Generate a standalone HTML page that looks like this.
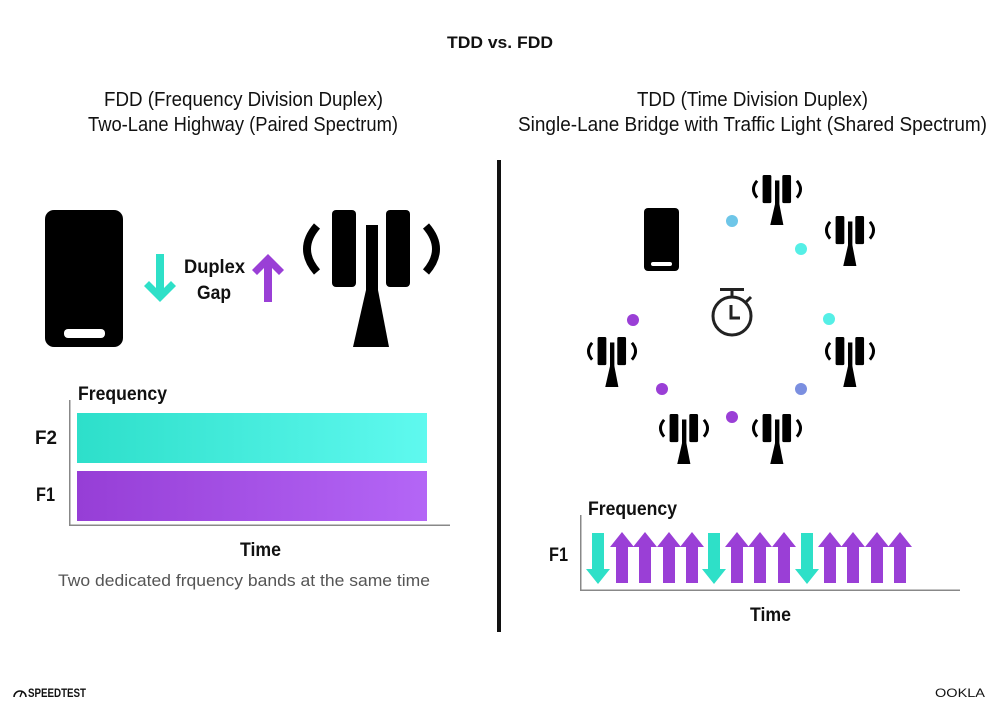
<!DOCTYPE html>
<html><head><meta charset="utf-8"><style>
html,body{margin:0;padding:0;background:#fff;}
svg{display:block;}
text{font-family:"Liberation Sans",sans-serif;fill:#111;}
</style></head><body>
<svg width="1000" height="707" viewBox="0 0 1000 707" xmlns="http://www.w3.org/2000/svg">
<defs>
<linearGradient id="gt" x1="0" x2="1" y1="0" y2="0"><stop offset="0" stop-color="#2ddfca"/><stop offset="1" stop-color="#5ff9ef"/></linearGradient>
<linearGradient id="gp" x1="0" x2="1" y1="0" y2="0"><stop offset="0" stop-color="#963ed6"/><stop offset="1" stop-color="#b466f6"/></linearGradient>
<g id="tower">
<rect x="29" y="0" width="24" height="77" rx="4" fill="#000"/>
<rect x="83" y="0" width="24" height="77" rx="4" fill="#000"/>
<rect x="63" y="15" width="12" height="80" fill="#000"/>
<polygon points="50,137 86,137 75,80 63,80" fill="#000"/>
<path d="M14,16 Q-6,39 14,62" stroke="#000" stroke-width="8" fill="none"/>
<path d="M123,16 Q143,39 123,62" stroke="#000" stroke-width="8" fill="none"/>
</g>
<g id="up"><polygon points="0,-26 12,-11 6,-11 6,25 -6,25 -6,-11 -12,-11" fill="#9a3fd6"/></g>
<g id="dn"><polygon points="0,26 12,11 6,11 6,-25 -6,-25 -6,11 -12,11" fill="#2ee0c8"/></g>
</defs>

<text x="447" y="48" font-size="17" font-weight="bold" textLength="106" lengthAdjust="spacingAndGlyphs">TDD vs. FDD</text>
<text x="104" y="106" font-size="20" textLength="279" lengthAdjust="spacingAndGlyphs">FDD (Frequency Division Duplex)</text>
<text x="88" y="131" font-size="20" textLength="310" lengthAdjust="spacingAndGlyphs">Two-Lane Highway (Paired Spectrum)</text>
<text x="637" y="106" font-size="20" textLength="231" lengthAdjust="spacingAndGlyphs">TDD (Time Division Duplex)</text>
<text x="518" y="131" font-size="20" textLength="469" lengthAdjust="spacingAndGlyphs">Single-Lane Bridge with Traffic Light (Shared Spectrum)</text>

<rect x="497" y="160" width="4" height="472" fill="#111"/>

<rect x="45" y="210" width="78" height="137" rx="9" fill="#000"/>
<rect x="64" y="329" width="41" height="9" rx="4" fill="#fff"/>
<g transform="translate(160,278)"><polygon points="0,24 16,8 11,3 4,10 4,-24 -4,-24 -4,10 -11,3 -16,8" fill="#2ee0c8"/></g>
<g transform="translate(268,278)"><polygon points="0,-24 16,-8 11,-3 4,-10 4,24 -4,24 -4,-10 -11,-3 -16,-8" fill="#9a3fd6"/></g>
<text x="184" y="273" font-size="19" font-weight="bold" textLength="61" lengthAdjust="spacingAndGlyphs">Duplex</text>
<text x="197" y="299" font-size="19" font-weight="bold" textLength="34" lengthAdjust="spacingAndGlyphs">Gap</text>
<use href="#tower" transform="translate(303,210)"/>

<rect x="69" y="400" width="1.5" height="126" fill="#888"/>
<rect x="69" y="524.5" width="381" height="1.5" fill="#888"/>
<rect x="77" y="413" width="350" height="50" fill="url(#gt)"/>
<rect x="77" y="471" width="350" height="50" fill="url(#gp)"/>
<text x="78" y="400" font-size="19" font-weight="bold" textLength="89" lengthAdjust="spacingAndGlyphs">Frequency</text>
<text x="35" y="444" font-size="19" font-weight="bold" textLength="22" lengthAdjust="spacingAndGlyphs">F2</text>
<text x="36" y="501" font-size="19" font-weight="bold" textLength="19" lengthAdjust="spacingAndGlyphs">F1</text>
<text x="240" y="556" font-size="19" font-weight="bold" textLength="41" lengthAdjust="spacingAndGlyphs">Time</text>
<text x="58" y="586" font-size="17" style="fill:#555" textLength="372" lengthAdjust="spacingAndGlyphs">Two dedicated frquency bands at the same time</text>

<rect x="644" y="208" width="35" height="63" rx="4" fill="#000"/>
<rect x="651" y="262" width="21" height="4" rx="2" fill="#fff"/>
<use href="#tower" transform="translate(752,175) scale(0.365)"/>
<use href="#tower" transform="translate(825,216) scale(0.365)"/>
<use href="#tower" transform="translate(825,337) scale(0.365)"/>
<use href="#tower" transform="translate(587,337) scale(0.365)"/>
<use href="#tower" transform="translate(659,414) scale(0.365)"/>
<use href="#tower" transform="translate(752,414) scale(0.365)"/>
<circle cx="732" cy="221" r="6" fill="#6ec6e8"/>
<circle cx="801" cy="249" r="6" fill="#55efe6"/>
<circle cx="829" cy="319" r="6" fill="#55efe6"/>
<circle cx="801" cy="389" r="6" fill="#7b8fe0"/>
<circle cx="732" cy="417" r="6" fill="#9a3fd6"/>
<circle cx="662" cy="389" r="6" fill="#9a3fd6"/>
<circle cx="633" cy="320" r="6" fill="#9a3fd6"/>
<circle cx="732" cy="316" r="19" fill="none" stroke="#222" stroke-width="3"/>
<rect x="720" y="288" width="24" height="3" fill="#222"/>
<rect x="730.5" y="290" width="3" height="8" fill="#222"/>
<line x1="746" y1="302" x2="751" y2="297" stroke="#222" stroke-width="3"/>
<polyline points="731,305 731,318 740,318" fill="none" stroke="#222" stroke-width="3"/>

<rect x="580" y="515" width="1.5" height="76" fill="#888"/>
<rect x="580" y="589.5" width="380" height="1.5" fill="#888"/>
<text x="588" y="515" font-size="19" font-weight="bold" textLength="89" lengthAdjust="spacingAndGlyphs">Frequency</text>
<text x="549" y="561" font-size="19" font-weight="bold" textLength="19" lengthAdjust="spacingAndGlyphs">F1</text>
<text x="750" y="621" font-size="19" font-weight="bold" textLength="41" lengthAdjust="spacingAndGlyphs">Time</text>
<use href="#dn" transform="translate(598,558)"/>
<use href="#up" transform="translate(622,558)"/>
<use href="#up" transform="translate(645,558)"/>
<use href="#up" transform="translate(669,558)"/>
<use href="#up" transform="translate(692,558)"/>
<use href="#dn" transform="translate(714,558)"/>
<use href="#up" transform="translate(737,558)"/>
<use href="#up" transform="translate(760,558)"/>
<use href="#up" transform="translate(784,558)"/>
<use href="#dn" transform="translate(807,558)"/>
<use href="#up" transform="translate(830,558)"/>
<use href="#up" transform="translate(853,558)"/>
<use href="#up" transform="translate(877,558)"/>
<use href="#up" transform="translate(900,558)"/>

<path d="M14,697 A6,6 0 1 1 26,697" fill="none" stroke="#111" stroke-width="1.6"/>
<line x1="20" y1="697" x2="22" y2="692" stroke="#111" stroke-width="1.4"/>
<text x="28" y="697" font-size="12" font-weight="bold" textLength="58" lengthAdjust="spacingAndGlyphs">SPEEDTEST</text>
<text x="935" y="697" font-size="12" textLength="50" lengthAdjust="spacingAndGlyphs">OOKLA</text>
</svg>
</body></html>
